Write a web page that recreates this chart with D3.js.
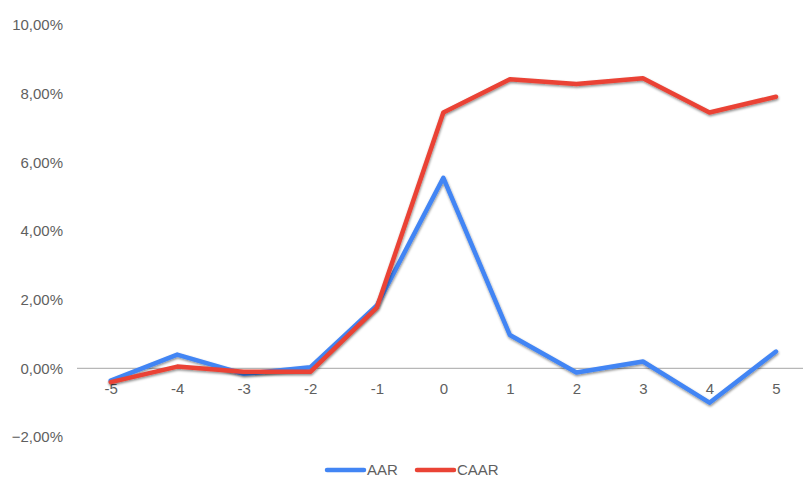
<!DOCTYPE html>
<html><head><meta charset="utf-8">
<script src="https://cdn.jsdelivr.net/npm/d3@7"></script>
<style>html,body{margin:0;padding:0;background:#fff;}svg{display:block;font-family:"Liberation Sans",Arial,sans-serif;}</style>
</head><body>
<svg id="chart" width="803" height="477"></svg>
<script>
const categories = [-5, -4, -3, -2, -1, 0, 1, 2, 3, 4, 5];
const aar  = [-0.36, 0.40, -0.16, 0.03, 1.83, 5.55, 0.97, -0.12, 0.20, -1.00, 0.49];
const caar = [-0.40, 0.05, -0.10, -0.10, 1.77, 7.45, 8.42, 8.28, 8.45, 7.45, 7.91];
const yTicks = [-2, 0, 2, 4, 6, 8, 10];
const seriesNames = ["AAR", "CAAR"];
const seriesColors = ["#4285F4", "#EA4335"];

const svg = d3.select("#chart");
const x = d3.scaleLinear().domain([-5, 5]).range([110.7, 776]);
const y = d3.scaleLinear().domain([-2, 10]).range([437, 25]);

const defs = svg.append("defs");
const f = defs.append("filter").attr("id", "sh").attr("x", "-10%").attr("y", "-10%").attr("width", "120%").attr("height", "130%");
f.append("feDropShadow").attr("dx", 0.5).attr("dy", 1.5).attr("stdDeviation", 1.2).attr("flood-color", "#000").attr("flood-opacity", 0.45);

const fmt = v => d3.format(".2f")(v).replace(".", ",") + "%";

// y axis labels
const yAxis = d3.axisLeft(y).tickValues(yTicks).tickSize(0).tickPadding(0).tickFormat(fmt);
const gy = svg.append("g").attr("transform", "translate(63,0)").call(yAxis);
gy.select(".domain").remove();
gy.selectAll("text").attr("fill", "#5f5f5f").style("font-size", "15px").style("font-family", '"Liberation Sans",Arial,sans-serif');

// zero line
svg.append("line").attr("x1", 77).attr("x2", 803).attr("y1", y(0)).attr("y2", y(0))
  .attr("stroke", "#b7b7b7").attr("stroke-width", 1.2);

// x axis labels
const xAxis = d3.axisBottom(x).tickValues(categories).tickSize(0).tickPadding(0).tickFormat(d => d);
const gx = svg.append("g").attr("transform", "translate(0,380)").call(xAxis);
gx.select(".domain").remove();
gx.selectAll("text").attr("fill", "#5f5f5f").attr("dy", "0.9em").style("font-size", "15px").style("font-family", '"Liberation Sans",Arial,sans-serif');

const line = d3.line().x((d, i) => x(categories[i])).y(d => y(d));
[aar, caar].forEach((s, k) => {
  svg.append("path").datum(s).attr("d", line).attr("fill", "none")
    .attr("stroke", seriesColors[k]).attr("stroke-width", 4.5)
    .attr("stroke-linejoin", "round").attr("stroke-linecap", "round")
    .attr("filter", "url(#sh)");
});

// legend
const legX = [327, 417];
seriesNames.forEach((n, k) => {
  const g = svg.append("g");
  g.append("line").attr("x1", legX[k]).attr("x2", legX[k] + 37).attr("y1", 470).attr("y2", 470)
    .attr("stroke", seriesColors[k]).attr("stroke-width", 4.5).attr("stroke-linecap", "round");
  g.append("text").attr("x", legX[k] + 40).attr("y", 475)
    .attr("fill", "#5f5f5f").style("font-size", "15px").text(n);
});
</script>
</body></html>
